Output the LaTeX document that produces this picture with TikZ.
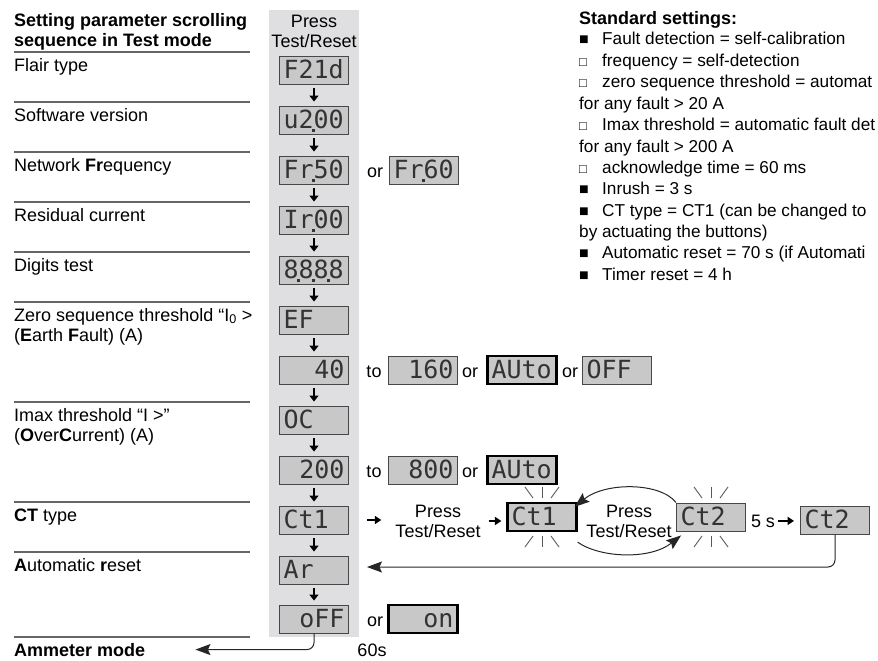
\documentclass[tikz,border=0pt]{standalone}
\usepackage{fontspec}
\setmainfont{Liberation Sans}
\newfontfamily\segfont{DejaVu Sans Mono}
\usetikzlibrary{positioning,arrows.meta}
\definecolor{colgray}{HTML}{DFDFE1}
\definecolor{lcdgray}{HTML}{C8C8C8}
\tikzset{
  lbl/.style  ={anchor=base west, inner sep=0pt, font=\fontsize{18}{20}\selectfont},
  lblb/.style ={lbl, font=\bfseries\fontsize{18}{20}\selectfont},
  setl/.style ={lbl, font=\fontsize{17.2}{20}\selectfont},
  txt/.style  ={inner sep=1pt, align=center, font=\fontsize{18}{20}\selectfont},
  lcd/.style  ={rectangle, draw=black!72, line width=0.9pt, fill=lcdgray,
                minimum width=69pt, minimum height=28pt, inner sep=0pt,
                text width=61pt, text height=17pt, text depth=0pt, align=left,
                text=black!80, font=\segfont\fontsize{25}{25}\selectfont},
  lcdr/.style ={lcd, align=right},
  lcdb/.style ={lcd, draw=black, line width=2.2pt},
  lcdbr/.style={lcdb, align=right},
  sep/.style  ={draw=black!60, line width=1.1pt},
  dnarr/.style={-{Triangle[length=6pt,width=9pt]}, line width=2.4pt,
                shorten <=4pt, shorten >=4pt},
  smarr/.style={-{Triangle[length=6.5pt,width=8pt]}, line width=2.2pt},
  bigarr/.style={-{Stealth[length=15pt,width=11pt,inset=2.5pt]}, line width=1pt, black!85},
  ray/.style  ={draw=black!65, line width=0.9pt},
}
% decimal point of the segment display
\newcommand{\segdot}{\makebox[0pt]{\rule[-3.5pt]{2.6pt}{2.6pt}}}
\newcommand{\bsq}{\makebox[23pt][l]{\fontsize{16}{16}\selectfont ■}}
\newcommand{\wsq}{\makebox[23pt][l]{\fontsize{13}{13}\selectfont □}}
\newcommand{\blink}[1]{%
  \foreach \s in {1,-1}{\foreach \d in {-1,0,1}{%
    \draw[ray] ([xshift=\d*9pt,yshift=\s*19pt]#1.center) -- ([xshift=\d*17pt,yshift=\s*30pt]#1.center);}}}

\begin{document}
\begin{tikzpicture}[x=1pt, y=-1pt]
  \useasboundingbox (0,0) rectangle (878,661);
  % scrolling column
  \fill[colgray] (269,10) rectangle (359,637);
  \node[txt] (press) at (314,31) {Press\\Test/Reset};

  % left labels
  \foreach \y in {52,102,152,202,252,302,402,502,552,637}
    \draw[sep] (14,\y) -- (250,\y);
  \node[lblb] (title)  at (14,27)  {Setting parameter scrolling};
  \node[lblb] (titleB) at (14,47)  {sequence in Test mode};
  \node[lbl]  (lflair) at (14,71)  {Flair type};
  \node[lbl]  (lsoft)  at (14,121) {Software version};
  \node[lbl]  (lfreq)  at (14,171) {Network \textbf{Fr}equency};
  \node[lbl]  (lresid) at (14,221) {Residual current};
  \node[lbl]  (ldig)   at (14,271) {Digits test};
  \node[lbl]  (lzero)  at (14,321) {Zero sequence threshold “I\textsubscript{0} >};
  \node[lbl]  (lzeroB) at (14,341) {(\textbf{E}arth \textbf{F}ault) (A)};
  \node[lbl]  (limax)  at (14,421) {Imax threshold “I >”};
  \node[lbl]  (limaxB) at (14,441) {(\textbf{O}ver\textbf{C}urrent) (A)};
  \node[lbl]  (lct)    at (14,521) {\textbf{CT} type};
  \node[lbl]  (lar)    at (14,571) {\textbf{A}utomatic \textbf{r}eset};
  \node[lblb] (ammeter) at (14,656) {Ammeter mode};

  % displays
  \node[lcd]  (flair)  at (314,70)  {F21d};
  \node[lcd]  (soft)   at (314,120) {u2\segdot00};
  \node[lcd]  (freq)   at (314,170) {Fr\segdot50};
  \node[lcd]  (resid)  at (314,220) {Ir\segdot00};
  \node[lcd]  (digits) at (314,270) {8\segdot8\segdot8\segdot8};
  \node[lcd]  (ef)     at (314,320) {EF};
  \node[lcdr] (efval)  at (314,370) {40};
  \node[lcd]  (oc)     at (314,420) {OC};
  \node[lcdr] (ocval)  at (314,470) {200};
  \node[lcd]  (ct)     at (314,520) {Ct1};
  \node[lcd]  (ar)     at (314,570) {Ar};
  \node[lcdr] (off)    at (314,619) {oFF};
  \foreach \a/\b in {flair/soft,soft/freq,freq/resid,resid/digits,digits/ef,ef/efval,
                     efval/oc,oc/ocval,ocval/ct,ct/ar,ar/off}
    \draw[dnarr] (\a) -- (\b);

  % alternatives
  \node[txt, anchor=base] (orF) at (375,177) {or};
  \node[lcd]   (freqB)  at (424,170) {Fr\segdot60};
  \node[txt, anchor=base] (toE) at (374,377) {to};
  \node[lcdr]  (efmax)  at (423,370) {160};
  \node[txt, anchor=base] (orE) at (470,377) {or};
  \node[lcdb]  (efauto) at (522,370) {AUto};
  \node[txt, anchor=base] (orEB) at (570,377) {or};
  \node[lcd]   (efoff)  at (617,370) {OFF};
  \node[txt, anchor=base] (toO) at (374,477) {to};
  \node[lcdr]  (ocmax)  at (423,470) {800};
  \node[txt, anchor=base] (orO) at (470,477) {or};
  \node[lcdb]  (ocauto) at (522,470) {AUto};
  \node[txt, anchor=base] (orR) at (375,626) {or};
  \node[lcdbr] (on)     at (423,619) {on};

  % CT type change
  \node[txt]  (pressA)  at (438,521) {Press\\Test/Reset};
  \node[lcdb] (blinkA)  at (542,517) {Ct1};
  \node[txt]  (pressB)  at (629,521) {Press\\Test/Reset};
  \node[lcd]  (blinkB)  at (711,517) {Ct2};
  \node[txt, anchor=base] (five) at (763,527) {5 s};
  \node[lcd]  (ctfinal) at (835,520) {Ct2};
  \blink{blinkA}
  \blink{blinkB}
  \draw[smarr, shorten <=18pt, shorten >=13pt] (ct.east) -- (ct.east -| pressA.west);
  \draw[smarr, shorten <=7pt, shorten >=5pt] (pressA.east) -- (pressA.east -| blinkA.west);
  \draw[smarr, shorten <=2pt, shorten >=6pt] (five.east) -- (five.east -| ctfinal.west);
  \draw[bigarr] (blinkB.north west) .. controls (660,482) and (605,482) .. ([xshift=-3pt,yshift=-5pt]blinkA.north east);
  \draw[bigarr] ([yshift=-10pt]blinkA.south east) .. controls (600,558) and (650,560) .. ([xshift=5pt,yshift=-4pt]blinkB.south west);
  \draw[bigarr, rounded corners=7pt] (ctfinal.south) |- ([xshift=18pt,yshift=3pt]ar.east);

  % exit
  \node[txt, anchor=base] (sixty) at (372,656) {60s};
  \draw[bigarr, rounded corners=7pt] (off.south) |- ([xshift=50pt]ammeter.east);

  % standard settings
  \node[lblb] (std) at (579,25) {Standard settings:};
  \node[setl] (s1)  at (579,45)    {\bsq Fault detection = self-calibration};
  \node[setl] (s2)  at (579,66.5)  {\wsq frequency = self-detection};
  \node[setl] (s3)  at (579,88)    {\wsq zero sequence threshold = automat};
  \node[setl] (s3b) at (579,109)   {for any fault > 20 A};
  \node[setl] (s4)  at (579,130.5) {\wsq Imax threshold = automatic fault det};
  \node[setl] (s4b) at (579,152)   {for any fault > 200 A};
  \node[setl] (s5)  at (579,173)   {\wsq acknowledge time = 60 ms};
  \node[setl] (s6)  at (579,194.5) {\bsq Inrush = 3 s};
  \node[setl] (s7)  at (579,216)   {\bsq CT type = CT1 (can be changed to};
  \node[setl] (s7b) at (579,237)   {by actuating the buttons)};
  \node[setl] (s8)  at (579,258.5) {\bsq Automatic reset = 70 s (if Automati};
  \node[setl] (s9)  at (579,280)   {\bsq Timer reset = 4 h};
\end{tikzpicture}
\end{document}
